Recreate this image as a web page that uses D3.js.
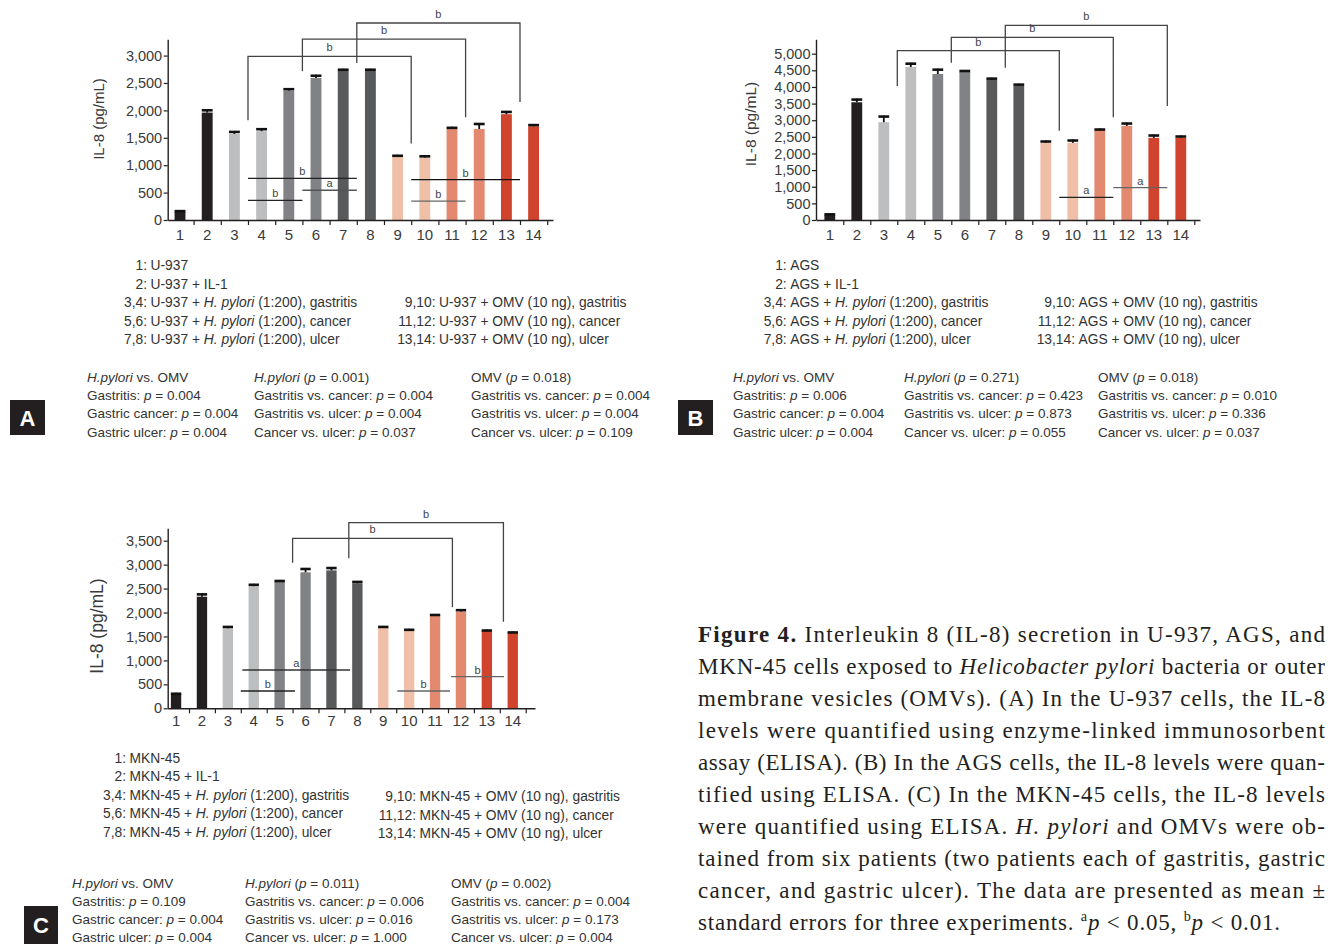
<!DOCTYPE html>
<html><head><meta charset="utf-8">
<script src="https://cdn.jsdelivr.net/npm/d3@7"></script>
<style>body{margin:0;background:#fff}</style>
</head><body>
<svg id="fig" width="1328" height="944" xmlns="http://www.w3.org/2000/svg"></svg>
<script>
// ---------------- DATA ----------------
const categories = ["1","2","3","4","5","6","7","8","9","10","11","12","13","14"];
const barColors = ["#231f20","#231f20","#bcbec0","#bcbec0","#808285","#808285","#58595b","#58595b",
                   "#f0bfa8","#f0bfa8","#e2896f","#e2896f","#d0432d","#d0432d"];

const u937Means  = [150,1960,1570,1620,2360,2590,2720,2720,1150,1140,1660,1660,1930,1710];
const u937Errors = [30,60,55,55,45,60,40,40,40,40,40,110,60,40];
const agsMeans   = [150,3540,2940,4600,4390,4450,4210,4030,2320,2320,2710,2830,2470,2470];
const agsErrors  = [50,110,200,130,160,60,70,70,70,100,40,100,100,70];
const mknMeans   = [310,2330,1670,2550,2650,2840,2880,2610,1700,1650,1940,2020,1620,1580];
const mknErrors  = [15,70,50,50,30,90,70,50,20,10,30,50,25,25];

const u937Ticks = [0,500,1000,1500,2000,2500,3000];
const agsTicks  = [0,500,1000,1500,2000,2500,3000,3500,4000,4500,5000];
const mknTicks  = [0,500,1000,1500,2000,2500,3000,3500];

// significance brackets: [from boundary, from-end value, top value, to boundary, to-end value, label]
const u937Brackets = [[3,1821,2987,9,1397,"b"],[5,2714,3302,11,1876,"b"],[7,2865,3594,13,2155,"b"]];
const agsBrackets  = [[3,4029,5090,9,2685,"b"],[5,4729,5493,11,3088,"b"],[7,4579,5854,13,3428,"b"]];
const mknBrackets  = [[5,3040,3550,11.17,2109,"b"],[7.17,3132,3876,13.14,1808,"b"]];
// within-group comparison lines: [from boundary, to boundary, value, label]
const u937Lines = [[3,7,761,"b"],[5,7,543,"a"],[3,5,357,"b"],[9,13,737,"b"],[9,11,344,"b"]];
const agsLines  = [[9,11,682,"a"],[11,13,971,"a"]];
const mknLines  = [[3.06,7.22,800,"a"],[3,5.09,361,"b"],[9.04,11.08,361,"b"],[11.12,13.16,660,"b"]];

const u937Legend = ["1: U-937","2: U-937 + IL-1","3,4: U-937 + *H. pylori* (1:200), gastritis",
  "5,6: U-937 + *H. pylori* (1:200), cancer","7,8: U-937 + *H. pylori* (1:200), ulcer"];
const u937Legend2 = ["9,10: U-937 + OMV (10 ng), gastritis","11,12: U-937 + OMV (10 ng), cancer","13,14: U-937 + OMV (10 ng), ulcer"];
const agsLegend = ["1: AGS","2: AGS + IL-1","3,4: AGS + *H. pylori* (1:200), gastritis",
  "5,6: AGS + *H. pylori* (1:200), cancer","7,8: AGS + *H. pylori* (1:200), ulcer"];
const agsLegend2 = ["9,10: AGS + OMV (10 ng), gastritis","11,12: AGS + OMV (10 ng), cancer","13,14: AGS + OMV (10 ng), ulcer"];
const mknLegend = ["1: MKN-45","2: MKN-45 + IL-1","3,4: MKN-45 + *H. pylori* (1:200), gastritis",
  "5,6: MKN-45 + *H. pylori* (1:200), cancer","7,8: MKN-45 + *H. pylori* (1:200), ulcer"];
const mknLegend2 = ["9,10: MKN-45 + OMV (10 ng), gastritis","11,12: MKN-45 + OMV (10 ng), cancer","13,14: MKN-45 + OMV (10 ng), ulcer"];

const u937Stats = [
  ["*H.pylori* vs. OMV","Gastritis: *p* = 0.004","Gastric cancer: *p* = 0.004","Gastric ulcer: *p* = 0.004"],
  ["*H.pylori* (*p* = 0.001)","Gastritis vs. cancer: *p* = 0.004","Gastritis vs. ulcer: *p* = 0.004","Cancer vs. ulcer: *p* = 0.037"],
  ["OMV (*p* = 0.018)","Gastritis vs. cancer: *p* = 0.004","Gastritis vs. ulcer: *p* = 0.004","Cancer vs. ulcer: *p* = 0.109"]];
const agsStats = [
  ["*H.pylori* vs. OMV","Gastritis: *p* = 0.006","Gastric cancer: *p* = 0.004","Gastric ulcer: *p* = 0.004"],
  ["*H.pylori* (*p* = 0.271)","Gastritis vs. cancer: *p* = 0.423","Gastritis vs. ulcer: *p* = 0.873","Cancer vs. ulcer: *p* = 0.055"],
  ["OMV (*p* = 0.018)","Gastritis vs. cancer: *p* = 0.010","Gastritis vs. ulcer: *p* = 0.336","Cancer vs. ulcer: *p* = 0.037"]];
const mknStats = [
  ["*H.pylori* vs. OMV","Gastritis: *p* = 0.109","Gastric cancer: *p* = 0.004","Gastric ulcer: *p* = 0.004"],
  ["*H.pylori* (*p* = 0.011)","Gastritis vs. cancer: *p* = 0.006","Gastritis vs. ulcer: *p* = 0.016","Cancer vs. ulcer: *p* = 1.000"],
  ["OMV (*p* = 0.002)","Gastritis vs. cancer: *p* = 0.004","Gastritis vs. ulcer: *p* = 0.173","Cancer vs. ulcer: *p* = 0.004"]];

const captionLines = [
  "**Figure 4.** Interleukin 8 (IL-8) secretion in U-937, AGS, and",
  "MKN-45 cells exposed to *Helicobacter pylori* bacteria or outer",
  "membrane vesicles (OMVs). (A) In the U-937 cells, the IL-8",
  "levels were quantified using enzyme-linked immunosorbent",
  "assay (ELISA). (B) In the AGS cells, the IL-8 levels were quan-",
  "tified using ELISA. (C) In the MKN-45 cells, the IL-8 levels",
  "were quantified using ELISA. *H. pylori* and OMVs were ob-",
  "tained from six patients (two patients each of gastritis, gastric",
  "cancer, and gastric ulcer). The data are presented as mean ±",
  "standard errors for three experiments. ^a^*p* < 0.05, ^b^*p* < 0.01."];

// ---------------- DRAWING ----------------
const svg = d3.select("#fig");
const FONT = "'Liberation Sans', Arial, sans-serif";
const INK = "#231f20";
svg.append("rect").attr("width",1328).attr("height",944).attr("fill","#fff");

function richText(sel, str, size) {
  // *x* italic, **x** bold, ^x^ superscript
  const re = /(\*\*[^*]+\*\*|\*[^*]+\*|\^[^^]+\^)/g;
  let shifted = 0;
  str.split(re).filter(s => s.length).forEach(s => {
    const t = sel.append("tspan");
    if (shifted) { t.attr("dy", shifted); shifted = 0; }
    if (s.startsWith("**")) t.attr("font-weight","bold").text(s.slice(2,-2));
    else if (s.startsWith("*")) t.attr("font-style","italic").text(s.slice(1,-1));
    else if (s.startsWith("^")) {
      const up = size * 0.4;
      t.attr("font-size", size * 0.62).attr("dy", -up).text(s.slice(1,-1));
      shifted = up;
    }
    else t.text(s);
  });
}

function drawPanel(cfg) {
  const g = svg.append("g");
  const x = d3.scaleBand().domain(categories)
    .range([cfg.x0, cfg.x0 + 14 * cfg.step]).paddingInner(0.6).paddingOuter(0.3);
  const pos = d3.scaleLinear().domain([0, 14]).range(x.range());
  const y = d3.scaleLinear().domain([0, cfg.yMax]).range([cfg.y0, cfg.yTop]);
  const bw = x.bandwidth();

  // bars
  g.selectAll("rect.bar").data(cfg.means).join("rect").attr("class","bar")
    .attr("x", (d,i) => x(categories[i])).attr("y", d => y(d))
    .attr("width", bw).attr("height", d => y(0) - y(d))
    .attr("fill", (d,i) => barColors[i]);
  // error bars (upper only)
  const eg = g.selectAll("g.err").data(cfg.means).join("g").attr("class","err");
  eg.append("line")
    .attr("x1", (d,i) => x(categories[i]) + bw/2).attr("x2", (d,i) => x(categories[i]) + bw/2)
    .attr("y1", d => y(d)).attr("y2", (d,i) => y(d + cfg.errors[i]))
    .attr("stroke", "#111").attr("stroke-width", 1.8);
  eg.append("line")
    .attr("x1", (d,i) => x(categories[i])).attr("x2", (d,i) => x(categories[i]) + bw)
    .attr("y1", (d,i) => y(d + cfg.errors[i]) + 1).attr("y2", (d,i) => y(d + cfg.errors[i]) + 1)
    .attr("stroke", "#111").attr("stroke-width", 2.6);

  // y axis
  const ya = g.append("g").attr("transform", `translate(${cfg.axisX},0)`)
    .call(d3.axisLeft(y).tickValues(cfg.ticks).tickFormat(d3.format(","))
      .tickSize(4).tickSizeOuter(0).tickPadding(1.5));
  ya.select(".domain").attr("stroke", INK).attr("stroke-width", 1.4);
  ya.selectAll(".tick line").attr("stroke", INK).attr("stroke-width", 1.2);
  ya.selectAll(".tick text").attr("font-family", FONT).attr("font-size", cfg.tickFont).attr("fill", "#3a3a3a");

  // x axis line + boundary ticks
  const xl = d3.scaleLinear().domain([0, 1]).range([cfg.axisX, cfg.axisEnd]);
  g.append("g").attr("transform", `translate(0,${y(0)})`)
    .call(d3.axisBottom(xl).tickValues([]).tickSizeOuter(0))
    .select(".domain").attr("stroke", INK).attr("stroke-width", 1.4);
  const xt = g.append("g").attr("transform", `translate(0,${y(0)})`)
    .call(d3.axisBottom(pos).tickValues(d3.range(1, 15)).tickFormat("").tickSize(5).tickSizeOuter(0));
  xt.select(".domain").remove();
  xt.selectAll(".tick line").attr("stroke", INK).attr("stroke-width", 1.2);
  const xlab = g.append("g").attr("transform", `translate(0,${y(0)})`)
    .call(d3.axisBottom(x).tickSize(0).tickPadding(cfg.labelPad));
  xlab.select(".domain").remove();
  xlab.selectAll(".tick text").attr("font-family", FONT).attr("font-size", cfg.catFont).attr("fill", "#3a3a3a");

  // y title
  g.append("text").attr("transform", `translate(${cfg.titleX},${cfg.titleY}) rotate(-90)`)
    .attr("text-anchor", "middle").attr("font-family", FONT).attr("font-size", cfg.titleFont)
    .attr("fill", "#3a3a3a").text("IL-8 (pg/mL)");

  // brackets
  cfg.brackets.forEach(b => {
    g.append("path")
      .attr("d", `M${pos(b[0])},${y(b[1])}V${y(b[2])}H${pos(b[3])}V${y(b[4])}`)
      .attr("fill", "none").attr("stroke", "#444").attr("stroke-width", 1.3);
    g.append("text").attr("x", (pos(b[0]) + pos(b[3])) / 2).attr("y", y(b[2]) - 5)
      .attr("text-anchor", "middle").attr("font-family", FONT).attr("font-size", 11)
      .attr("fill", "#444").text(b[5]);
  });
  cfg.lines.forEach((l, i) => {
    g.append("line").attr("x1", pos(l[0])).attr("x2", pos(l[1])).attr("y1", y(l[2])).attr("y2", y(l[2]))
      .attr("stroke", cfg.lineColors[i]).attr("stroke-width", 1.3);
    g.append("text").attr("x", (pos(l[0]) + pos(l[1])) / 2).attr("y", y(l[2]) - 3)
      .attr("text-anchor", "middle").attr("font-family", FONT).attr("font-size", 11)
      .attr("fill", "#444").text(l[3]);
  });
}

function legendRows(rows, colonX, ys, size) {
  rows.forEach((r, i) => {
    const k = r.indexOf(":");
    svg.append("text").attr("x", colonX).attr("y", ys[i]).attr("text-anchor", "end")
      .attr("font-family", FONT).attr("font-size", size).attr("fill", "#333").text(r.slice(0, k + 1));
    const t = svg.append("text").attr("x", colonX + 3.5).attr("y", ys[i])
      .attr("font-family", FONT).attr("font-size", size).attr("fill", "#333");
    richText(t, r.slice(k + 2), size);
  });
}
function statsBlock(cols, xs, ys, size) {
  cols.forEach((col, c) => col.forEach((r, i) => {
    const t = svg.append("text").attr("x", xs[c]).attr("y", ys[i])
      .attr("font-family", FONT).attr("font-size", size).attr("fill", "#333");
    richText(t, r, size);
  }));
}
function panelLetter(x, y, w, h, letter) {
  svg.append("rect").attr("x", x).attr("y", y).attr("width", w).attr("height", h).attr("fill", INK);
  svg.append("text").attr("x", x + w / 2).attr("y", y + h / 2 + 8).attr("text-anchor", "middle")
    .attr("font-family", FONT).attr("font-weight", "bold").attr("font-size", 22).attr("fill", "#fff").text(letter);
}

drawPanel({means: u937Means, errors: u937Errors, ticks: u937Ticks, brackets: u937Brackets, lines: u937Lines,
  lineColors: ["#222","#555","#222","#111","#666"],
  x0: 166.4, step: 27.2, axisX: 167.7, axisEnd: 553, y0: 220, yTop: 39.3, yMax: 3297,
  tickFont: 14.5, catFont: 15, labelPad: 9, titleFont: 15, titleX: 104, titleY: 119});
drawPanel({means: agsMeans, errors: agsErrors, ticks: agsTicks, brackets: agsBrackets, lines: agsLines,
  lineColors: ["#222","#666"],
  x0: 816.3, step: 27.0, axisX: 816, axisEnd: 1200, y0: 220, yTop: 39.3, yMax: 5433,
  tickFont: 14.5, catFont: 15, labelPad: 9, titleFont: 15.5, titleX: 756, titleY: 124});
drawPanel({means: mknMeans, errors: mknErrors, ticks: mknTicks, brackets: mknBrackets, lines: mknLines,
  lineColors: ["#333","#222","#666","#666"],
  x0: 163.1, step: 25.9, axisX: 167.7, axisEnd: 535, y0: 708.3, yTop: 528.3, yMax: 3759,
  tickFont: 14.5, catFont: 15, labelPad: 7, titleFont: 17.5, titleX: 103, titleY: 626});

legendRows(u937Legend, 147, [270,289,307,326,344], 13.8);
legendRows(u937Legend2, 435.5, [307,326,344], 13.8);
legendRows(agsLegend, 786.7, [270,289,307,326,344], 13.8);
legendRows(agsLegend2, 1075, [307,326,344], 13.8);
legendRows(mknLegend, 126, [763,781,800,818,837], 13.8);
legendRows(mknLegend2, 416, [801,820,838], 13.8);

statsBlock(u937Stats, [87,254,471], [382,400,418,437], 13.5);
statsBlock(agsStats, [733,904,1098], [382,400,418,437], 13.5);
statsBlock(mknStats, [72,245,451], [888,906,924,942], 13.5);

panelLetter(10, 400, 35, 35, "A");
panelLetter(678, 400, 35, 35, "B");
panelLetter(24, 906, 34, 38, "C");

// caption
captionLines.forEach((line, i) => {
  const t = svg.append("text").attr("x", 698).attr("y", 642 + i * 32)
    .attr("font-family", "'Liberation Serif', 'DejaVu Serif', serif").attr("font-size", 23)
    .attr("fill", INK);
  richText(t, line, 23);
  t.attr("textLength", i < captionLines.length - 1 ? 627 : 582).attr("lengthAdjust", "spacing");
});
</script>
</body></html>
